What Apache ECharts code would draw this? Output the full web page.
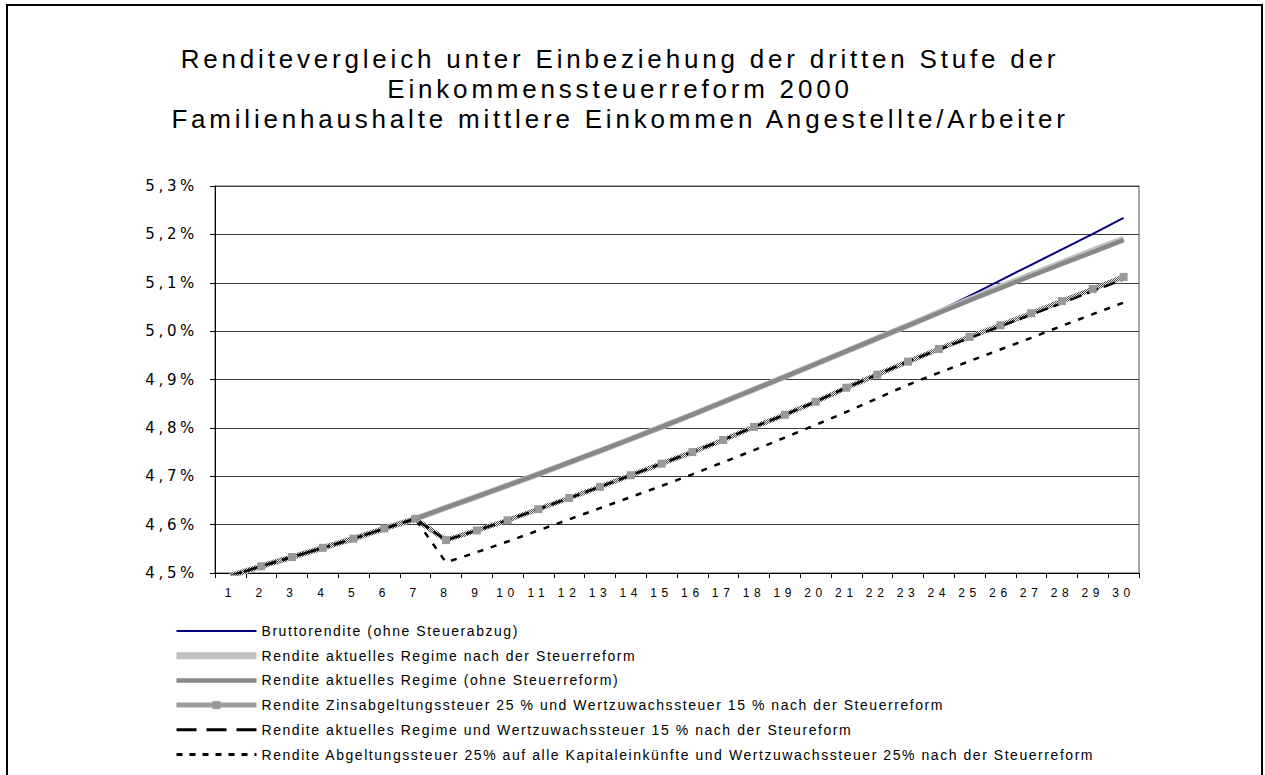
<!DOCTYPE html>
<html>
<head>
<meta charset="utf-8">
<script src="https://cdn.jsdelivr.net/npm/echarts@6/dist/echarts.min.js"></script>
<style>
  html, body { margin: 0; padding: 0; background: #fff; }
  #chart { position: absolute; left: 0; top: 0; width: 1265px; height: 775px; }
  #frame { position: absolute; left: 6px; top: 4px; width: 1257px; height: 800px;
           border: 2px solid #000; box-sizing: border-box; pointer-events: none; }
</style>
</head>
<body>
<div id="chart"></div>
<div id="frame"></div>
<script>
// ---- data -------------------------------------------------------------
const titleLines = [
  'Renditevergleich unter Einbeziehung der dritten Stufe der',
  'Einkommenssteuerreform 2000',
  'Familienhaushalte mittlere Einkommen Angestellte/Arbeiter'
];

const categories = ['1','2','3','4','5','6','7','8','9','10','11','12','13','14','15',
                    '16','17','18','19','20','21','22','23','24','25','26','27','28','29','30'];

const seriesNames = [
  'Bruttorendite (ohne Steuerabzug)',
  'Rendite aktuelles Regime nach der Steuerreform',
  'Rendite aktuelles Regime (ohne Steuerreform)',
  'Rendite Zinsabgeltungssteuer 25 % und Wertzuwachssteuer 15 % nach der Steuerreform',
  'Rendite aktuelles Regime und Wertzuwachssteuer 15 % nach der Steureform',
  'Rendite Abgeltungssteuer 25% auf alle Kapitaleinkünfte und Wertzuwachssteuer 25% nach der Steuerreform'
];

// yields in percent, years 1..30
const bruttorendite = [4.494, 4.514, 4.533, 4.552, 4.571, 4.592, 4.612, 4.635, 4.658, 4.681,
                       4.7045, 4.7285, 4.7525, 4.777, 4.802, 4.8275, 4.8535, 4.8795, 4.9055, 4.932,
                       4.9585, 4.985, 5.0115, 5.042, 5.073, 5.105, 5.137, 5.169, 5.201, 5.234];
const regimeNachReform = [4.494, 4.514, 4.533, 4.552, 4.571, 4.592, 4.612, 4.635, 4.658, 4.681,
                          4.7045, 4.7285, 4.7525, 4.777, 4.802, 4.8275, 4.8535, 4.8795, 4.9055, 4.932,
                          4.9585, 4.985, 5.0115, 5.039, 5.066, 5.092, 5.117, 5.142, 5.167, 5.191];
const regimeOhneReform = [4.494, 4.514, 4.533, 4.552, 4.571, 4.592, 4.612, 4.635, 4.658, 4.681,
                          4.7045, 4.7285, 4.7525, 4.777, 4.802, 4.8275, 4.8535, 4.8795, 4.9055, 4.932,
                          4.9585, 4.985, 5.0115, 5.0375, 5.0635, 5.089, 5.114, 5.139, 5.1635, 5.188];
const zinsabgeltung = [4.494, 4.514, 4.533, 4.552, 4.571, 4.592, 4.612, 4.568, 4.588, 4.609,
                       4.632, 4.655, 4.678, 4.702, 4.726, 4.750, 4.775, 4.802, 4.827, 4.854,
                       4.883, 4.910, 4.937, 4.963, 4.988, 5.012, 5.037, 5.062, 5.087, 5.112];
const regimeWertzuwachs = [4.494, 4.514, 4.533, 4.552, 4.571, 4.592, 4.612, 4.568, 4.588, 4.609,
                           4.632, 4.655, 4.678, 4.702, 4.726, 4.750, 4.775, 4.802, 4.827, 4.854,
                           4.883, 4.910, 4.937, 4.962, 4.986, 5.010, 5.034, 5.058, 5.083, 5.107];
const abgeltungAlle = [4.494, 4.514, 4.533, 4.552, 4.571, 4.592, 4.612, 4.522, 4.543, 4.565,
                       4.588, 4.611, 4.634, 4.657, 4.680, 4.704, 4.729, 4.754, 4.780, 4.806,
                       4.833, 4.861, 4.889, 4.914, 4.938, 4.962, 4.986, 5.011, 5.035, 5.059];

const yMin = 4.5, yMax = 5.3, yStep = 0.1;

// ---- fonts & letter tracking -----------------------------------------
const FONT = "'Liberation Sans', Arial, sans-serif";
const WIDE_FONT = "'DejaVu Sans', Verdana, sans-serif";
const mctx = document.createElement('canvas').getContext('2d');
function trackFor(text, size, family, target) {
  mctx.font = size + 'px ' + family;
  return Math.max(0, (target - mctx.measureText(text).width) / (text.length - 1));
}
// each text size gets its own tracking so the spaced-out lettering keeps its width
const tracking = [
  [26, trackFor(titleLines[0], 26, FONT, 875)],
  [14, trackFor(seriesNames[0], 14, FONT, 256)],
  [15, trackFor('4,5%', 15, WIDE_FONT, 49)],
  [12, trackFor('30', 12, FONT, 18)]
];
const styleEl = document.createElement('style');
styleEl.textContent = tracking
  .map(([s, t]) => `#chart text[style*="${s}px"]{letter-spacing:${t.toFixed(2)}px}`)
  .join('\n');
document.head.appendChild(styleEl);

// hatched stroke for the Zinsabgeltung line
const pc = document.createElement('canvas');
pc.width = 4; pc.height = 4;
const pg = pc.getContext('2d');
pg.fillStyle = '#efefef'; pg.fillRect(0, 0, 4, 4);
pg.fillStyle = '#4a4a4a';
for (let y = 0; y < 4; y++) for (let x = 0; x < 4; x++) if ((x + y) % 2 === 0) pg.fillRect(x, y, 1, 1);
const hatch = { image: pc.toDataURL(), repeat: 'repeat' };

// legend icons show the line only, except for the series with square markers
const noMark = { opacity: 0 };

// ---- chart -----------------------------------------------------------
const chart = echarts.init(document.getElementById('chart'), null, { renderer: 'svg' });

chart.setOption({
  animation: false,
  backgroundColor: 'transparent',
  title: {
    text: titleLines.join('\n'),
    left: 620, top: 44, padding: 0,
    textAlign: 'center',
    textStyle: { fontSize: 26, fontWeight: 'normal', lineHeight: 30, color: '#000', fontFamily: FONT }
  },
  grid: { left: 215, right: 126, top: 186, bottom: 202, show: true, borderColor: '#505050', borderWidth: 1 },
  legend: {
    orient: 'vertical', left: 173, top: 624, padding: 0,
    itemWidth: 80, itemHeight: 10, itemGap: 10.7,
    selectedMode: false,
    textStyle: { fontSize: 14, color: '#000', fontFamily: FONT },
    data: [
      { name: seriesNames[0], lineStyle: { width: 2 }, itemStyle: noMark },
      { name: seriesNames[1], lineStyle: { width: 7 }, itemStyle: noMark },
      { name: seriesNames[2], lineStyle: { width: 4.5 }, itemStyle: noMark },
      { name: seriesNames[3], lineStyle: { width: 5 } },
      { name: seriesNames[4], lineStyle: { width: 3, type: [20, 10] }, itemStyle: noMark },
      { name: seriesNames[5], lineStyle: { width: 3, type: [6, 7] }, itemStyle: noMark }
    ]
  },
  xAxis: {
    type: 'category', data: categories, boundaryGap: true,
    axisLine: { lineStyle: { color: '#000', width: 1 } },
    axisTick: { show: true, length: 5, interval: 0, alignWithLabel: false, lineStyle: { color: '#000' } },
    axisLabel: { interval: 0, fontSize: 12, color: '#000', margin: 14, fontFamily: FONT },
    splitLine: { show: false }
  },
  yAxis: {
    type: 'value', min: yMin, max: yMax, interval: yStep,
    axisLine: { show: true, lineStyle: { color: '#000', width: 1 } },
    axisTick: { show: true, length: 5, lineStyle: { color: '#000' } },
    splitLine: { lineStyle: { color: '#3c3c3c', width: 1 } },
    axisLabel: {
      fontSize: 15, color: '#000', margin: 17, fontFamily: WIDE_FONT,
      formatter: v => v.toFixed(1).replace('.', ',') + '%'
    }
  },
  series: [
    { name: seriesNames[0], type: 'line', data: bruttorendite, symbol: 'none',
      lineStyle: { color: '#000080', width: 2 }, itemStyle: { color: '#000080' } },
    { name: seriesNames[1], type: 'line', data: regimeNachReform, symbol: 'none',
      lineStyle: { color: '#c0c0c0', width: 6 }, itemStyle: { color: '#c0c0c0' } },
    { name: seriesNames[2], type: 'line', data: regimeOhneReform, symbol: 'none',
      lineStyle: { color: '#888888', width: 4.5 }, itemStyle: { color: '#888888' } },
    { name: seriesNames[3], type: 'line', data: zinsabgeltung, symbol: 'rect', symbolSize: 8,
      showAllSymbol: true, itemStyle: { color: '#999999' }, lineStyle: { color: hatch, width: 5 } },
    { name: seriesNames[4], type: 'line', data: regimeWertzuwachs, symbol: 'none',
      lineStyle: { color: '#000', width: 2.5, type: [12, 6] }, itemStyle: { color: '#000' } },
    { name: seriesNames[5], type: 'line', data: abgeltungAlle, symbol: 'none',
      lineStyle: { color: '#000', width: 2.5, type: [6, 8] }, itemStyle: { color: '#000' } }
  ]
});
</script>
</body>
</html>
